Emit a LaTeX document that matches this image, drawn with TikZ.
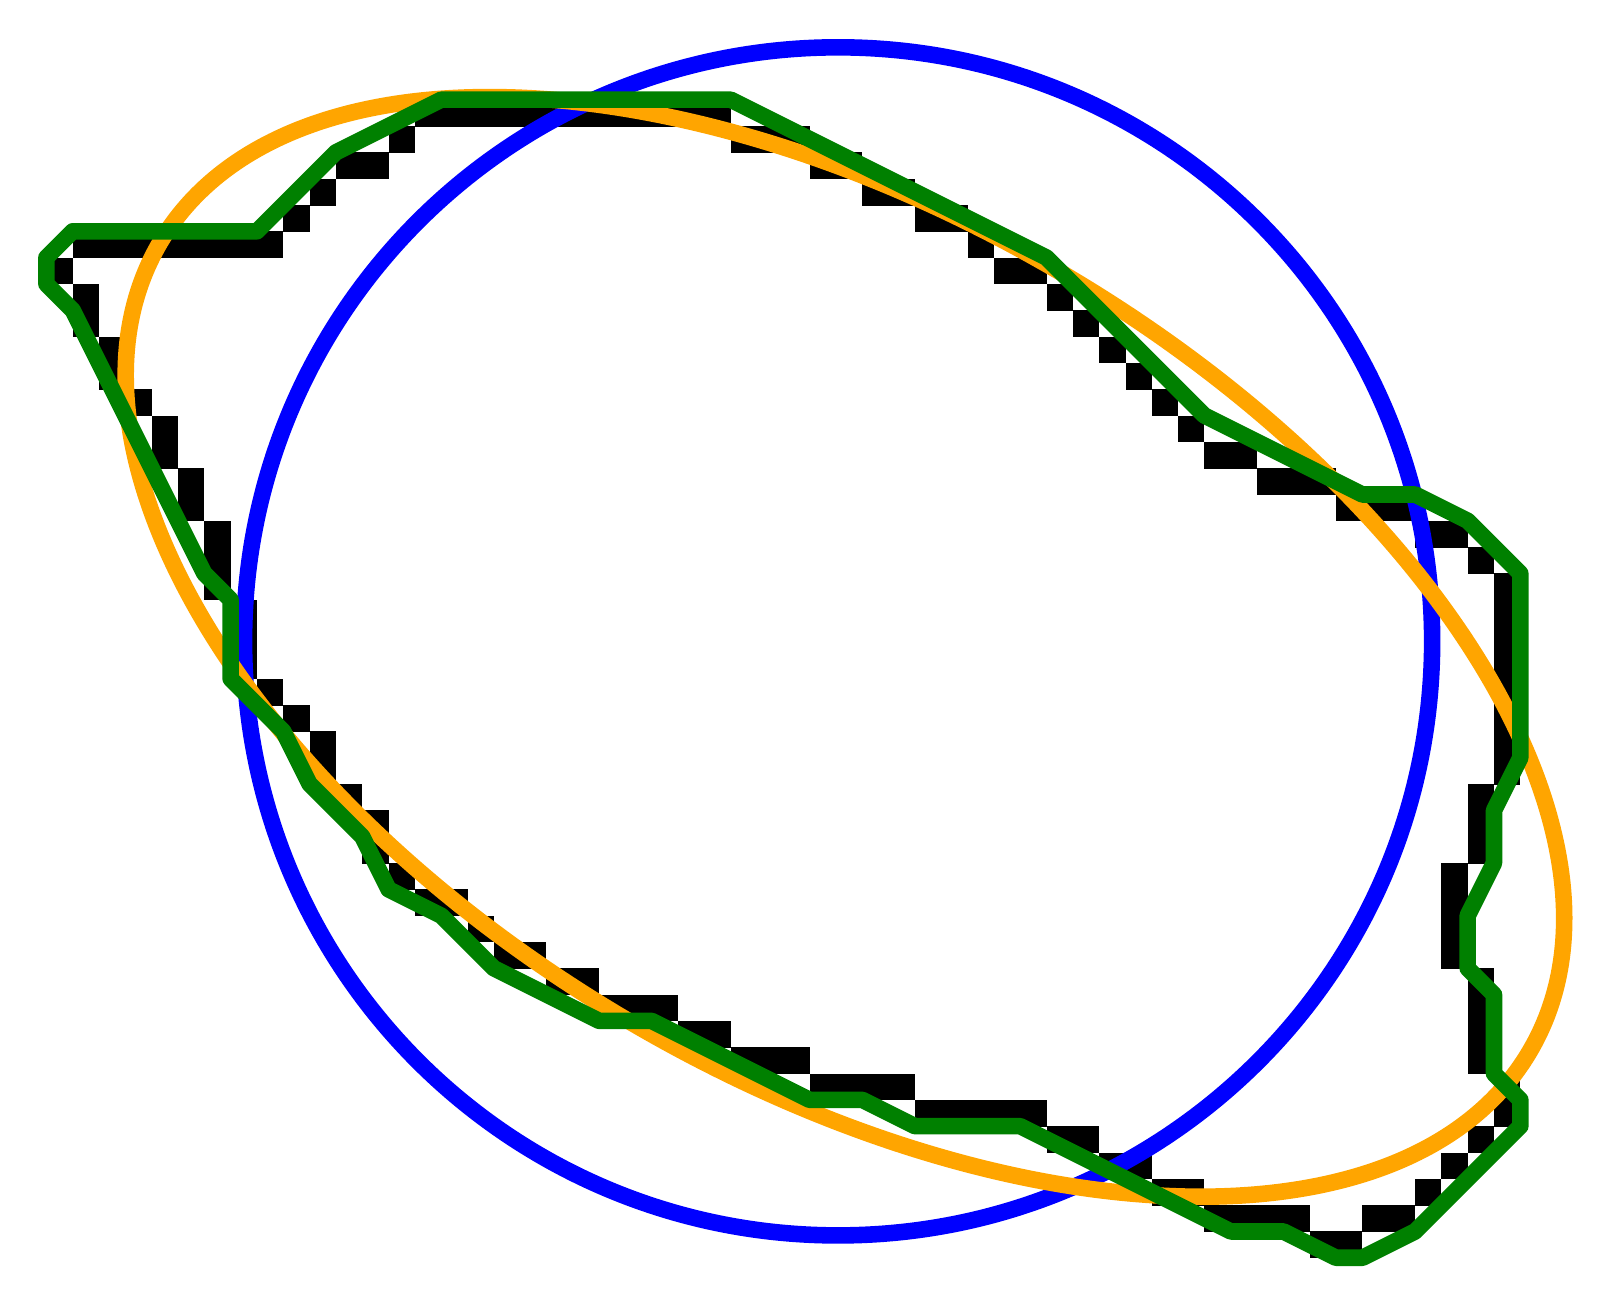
\documentclass[tikz,border=0pt]{standalone}
\definecolor{fitorange}{RGB}{255,165,0}
\definecolor{polygreen}{RGB}{0,128,0}
\begin{document}
\begin{tikzpicture}[x=10pt, y=-10pt, line join=round, line cap=round]
	\useasboundingbox (-1.763,-3.788) rectangle (59.18,45.76);
	\foreach \j/\a/\b in {0/14/25, 1/13/13, 1/26/28, 2/11/12, 2/29/30, 3/10/10, 3/31/32, 4/9/9, 4/33/34, 5/1/8, 5/35/35, 6/0/0, 6/36/37, 7/1/1, 7/38/38, 8/1/1, 8/39/39, 9/2/2, 9/40/40, 10/2/2, 10/41/41, 11/3/3, 11/42/42, 12/4/4, 12/43/43, 13/4/4, 13/44/45, 14/5/5, 14/46/48, 15/5/5, 15/49/51, 16/6/6, 16/52/53, 17/6/6, 17/54/54, 18/6/6, 18/55/55, 19/7/7, 19/55/55, 20/7/7, 20/55/55, 21/7/7, 21/55/55, 22/8/8, 22/55/55, 23/9/9, 23/55/55, 24/10/10, 24/55/55, 25/10/10, 25/55/55, 26/11/11, 26/54/54, 27/12/12, 27/54/54, 28/12/12, 28/54/54, 29/13/13, 29/53/53, 30/14/15, 30/53/53, 31/16/16, 31/53/53, 32/17/18, 32/53/53, 33/19/20, 33/54/54, 34/21/23, 34/54/54, 35/24/25, 35/54/54, 36/26/28, 36/54/54, 37/29/32, 37/55/55, 38/33/37, 38/55/55, 39/38/39, 39/54/54, 40/40/41, 40/53/53, 41/42/43, 41/52/52, 42/44/47, 42/50/51, 43/48/49}
		\fill (\a,\j) rectangle (\b+1,\j+1.02);
	\draw[blue, line width=6.3pt] (30.08,20.58) circle (22.57);
	\draw[fitorange, line width=6.3pt, rotate around={-30.6:(30.34,20.79)}] (30.34,20.79) ellipse [x radius=30.22, y radius=16.42];
	\draw[polygreen, line width=6.3pt] (15,0)--(26,0)--(38,6)--(44,12)--(50,15)--(52,15)--(54,16)--(56,18)--(56,25)--(55,27)--(55,29)--(54,31)--(54,33)--(55,34)--(55,37)--(56,38)--(56,39)--(52,43)--(50,44)--(49,44)--(47,43)--(45,43)--(37,39)--(33,39)--(31,38)--(29,38)--(23,35)--(21,35)--(17,33)--(15,31)--(13,30)--(12,28)--(10,26)--(9,24)--(7,22)--(7,19)--(6,18)--(1,8)--(0,7)--(0,6)--(1,5)--(8,5)--(11,2)--cycle;
\end{tikzpicture}
\end{document}
